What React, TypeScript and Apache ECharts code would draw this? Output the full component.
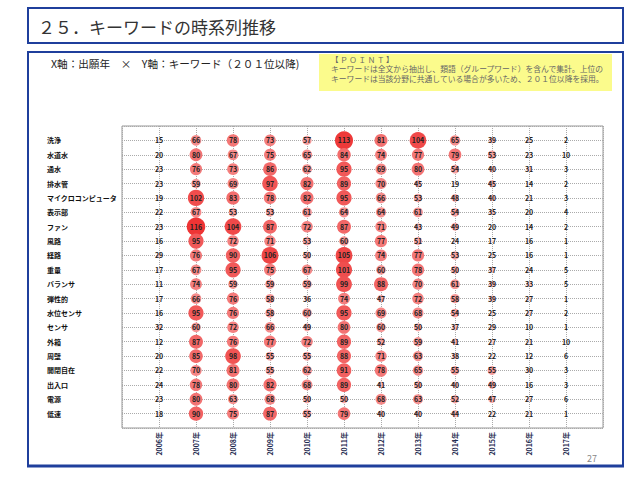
import React, { useEffect, useRef } from 'react';
import * as echarts from 'echarts';

const years = [2006, 2007, 2008, 2009, 2010, 2011, 2012, 2013, 2014, 2015, 2016, 2017];
const keywords = [
  '洗浄', '水道水', '通水', '排水管', 'マイクロコンピュータ', '表示部', 'ファン', '風路', '経路', '重量',
  'バランサ', '弾性的', '水位センサ', 'センサ', '外箱', '周壁', '開閉自在', '出入口', '電源', '低速',
];
const counts: number[][] = [
  [15, 66, 78, 73, 57, 113, 81, 104, 65, 39, 25, 2],
  [20, 80, 67, 75, 65, 84, 74, 77, 79, 53, 23, 10],
  [23, 76, 73, 86, 62, 95, 69, 80, 54, 40, 31, 3],
  [23, 59, 69, 97, 82, 89, 70, 45, 19, 45, 14, 2],
  [19, 102, 83, 78, 82, 95, 66, 53, 48, 40, 21, 3],
  [22, 67, 53, 53, 61, 64, 64, 61, 54, 35, 20, 4],
  [23, 116, 104, 87, 72, 87, 71, 43, 49, 20, 14, 2],
  [16, 95, 72, 71, 53, 60, 77, 51, 24, 17, 16, 1],
  [29, 76, 90, 106, 50, 105, 74, 77, 53, 25, 16, 1],
  [17, 67, 95, 75, 67, 101, 60, 78, 50, 37, 24, 5],
  [11, 74, 59, 59, 59, 99, 88, 70, 61, 39, 33, 5],
  [17, 66, 76, 58, 36, 74, 47, 72, 58, 39, 27, 1],
  [16, 95, 76, 58, 60, 95, 69, 68, 54, 25, 27, 2],
  [32, 60, 72, 66, 49, 80, 60, 50, 37, 29, 10, 1],
  [12, 87, 76, 77, 72, 89, 52, 59, 41, 27, 21, 10],
  [20, 85, 98, 55, 55, 88, 71, 63, 38, 22, 12, 6],
  [22, 70, 81, 55, 62, 91, 78, 65, 55, 55, 30, 3],
  [24, 78, 80, 82, 68, 89, 41, 50, 40, 49, 16, 3],
  [23, 80, 63, 68, 50, 50, 68, 63, 52, 47, 27, 6],
  [18, 90, 75, 87, 55, 79, 40, 40, 44, 22, 21, 1],
];

const titleText = '２５．キーワードの時系列推移';
const subtitleText = 'X軸：出願年　×　Y軸：キーワード（２０１位以降)';
const pointHead = '【 Ｐ Ｏ Ｉ Ｎ Ｔ 】';
const pointLines = [
  'キーワードは全文から抽出し、類語（グループワード）を含んで集計。上位の',
  'キーワードは当該分野に共通している場合が多いため、２０１位以降を採用。',
];
const pageNo = '27';

const FONT = "'Noto Sans CJK JP', 'Noto Sans', sans-serif";
const BLUE = '#1f3f9c';

export default function App() {
  const ref = useRef<HTMLDivElement>(null);
  useEffect(() => {
    if (!ref.current) return;
    const chart = echarts.init(ref.current, undefined, { renderer: 'svg' });
    const data: number[][] = [];
    counts.forEach((row, i) => {
      row.forEach((v, j) => {
        data.push([years[j], i + 1, v]);
      });
    });
    const maxV = Math.max(...data.map((d) => d[2]));
    const smallText = (text: string, y: number, size: number) => ({
      type: 'text',
      x: 331,
      y,
      style: { text, fontSize: size, lineHeight: 8.5, fill: '#666', fontFamily: FONT, verticalAlign: 'middle' },
    });
    chart.setOption({
      animation: false,
      backgroundColor: '#ffffff',
      textStyle: { fontFamily: FONT },
      grid: { left: 122, right: 37, top: 126, bottom: 52, show: true, borderColor: '#999', borderWidth: 1, backgroundColor: 'transparent' },
      xAxis: {
        type: 'value',
        min: 2005,
        max: 2018,
        interval: 1,
        axisLine: { show: false },
        axisTick: { show: false },
        splitLine: { show: true, lineStyle: { color: '#aaa', type: 'dotted', width: 1 } },
        axisLabel: {
          rotate: 90,
          margin: 4,
          fontSize: 7,
          fontWeight: 'bold',
          color: '#1e2a50',
          fontFamily: FONT,
          formatter: (v: number) => (v >= years[0] && v <= years[years.length - 1] ? v + '年' : ''),
        },
      },
      yAxis: {
        type: 'value',
        min: 0,
        max: keywords.length + 1,
        interval: 1,
        inverse: true,
        axisLine: { show: false },
        axisTick: { show: false },
        splitLine: { show: true, lineStyle: { color: '#aaa', type: 'dotted', width: 1 } },
        axisLabel: {
          align: 'left',
          margin: 75,
          fontSize: 7,
          fontWeight: 'bold',
          color: '#111',
          fontFamily: FONT,
          formatter: (v: number) => keywords[v - 1] ?? '',
        },
      },
      visualMap: {
        show: false,
        dimension: 2,
        min: 0,
        max: maxV,
        inRange: { color: ['#ffffff', '#ee3434'] },
      },
      series: [
        {
          type: 'scatter',
          data,
          symbolSize: (d: number[]) => d[2] * 0.16,
          label: {
            show: true,
            position: 'inside',
            formatter: (p: any) => String(p.value[2]),
            fontSize: 7,
            fontWeight: 'bold',
            color: '#222',
            fontFamily: FONT,
          },
          itemStyle: { opacity: 1 },
        },
      ],
      graphic: [
        { type: 'rect', z: -1, shape: { x: 28, y: 8, width: 595, height: 35 }, style: { fill: 'none', stroke: BLUE, lineWidth: 2 } },
        { type: 'text', x: 38, y: 26, style: { text: titleText, fontSize: 17, fill: '#333', fontFamily: FONT, verticalAlign: 'middle' } },
        { type: 'rect', z: -1, shape: { x: 28, y: 52, width: 595, height: 414 }, style: { fill: 'none', stroke: BLUE, lineWidth: 2 } },
        { type: 'line', shape: { x1: 27, y1: 466, x2: 624, y2: 466 }, style: { stroke: BLUE, lineWidth: 3 } },
        { type: 'text', x: 51, y: 63, style: { text: subtitleText, fontSize: 10.6, fill: '#222', fontFamily: FONT, verticalAlign: 'middle' } },
        { type: 'rect', shape: { x: 319, y: 54, width: 293, height: 37 }, style: { fill: '#fbfb8c', stroke: 'none' } },
        smallText(pointHead, 59, 7.5),
        smallText(pointLines[0], 68.5, 7.8),
        smallText(pointLines[1], 78, 7.8),
        { type: 'text', x: 587, y: 458, style: { text: pageNo, fontSize: 9, fill: '#888', fontFamily: FONT, verticalAlign: 'middle' } },
      ],
    });
    return () => chart.dispose();
  }, []);
  return <div ref={ref} style={{ position: 'fixed', left: 0, top: 0, width: 640, height: 480, background: '#fff' }} />;
}
